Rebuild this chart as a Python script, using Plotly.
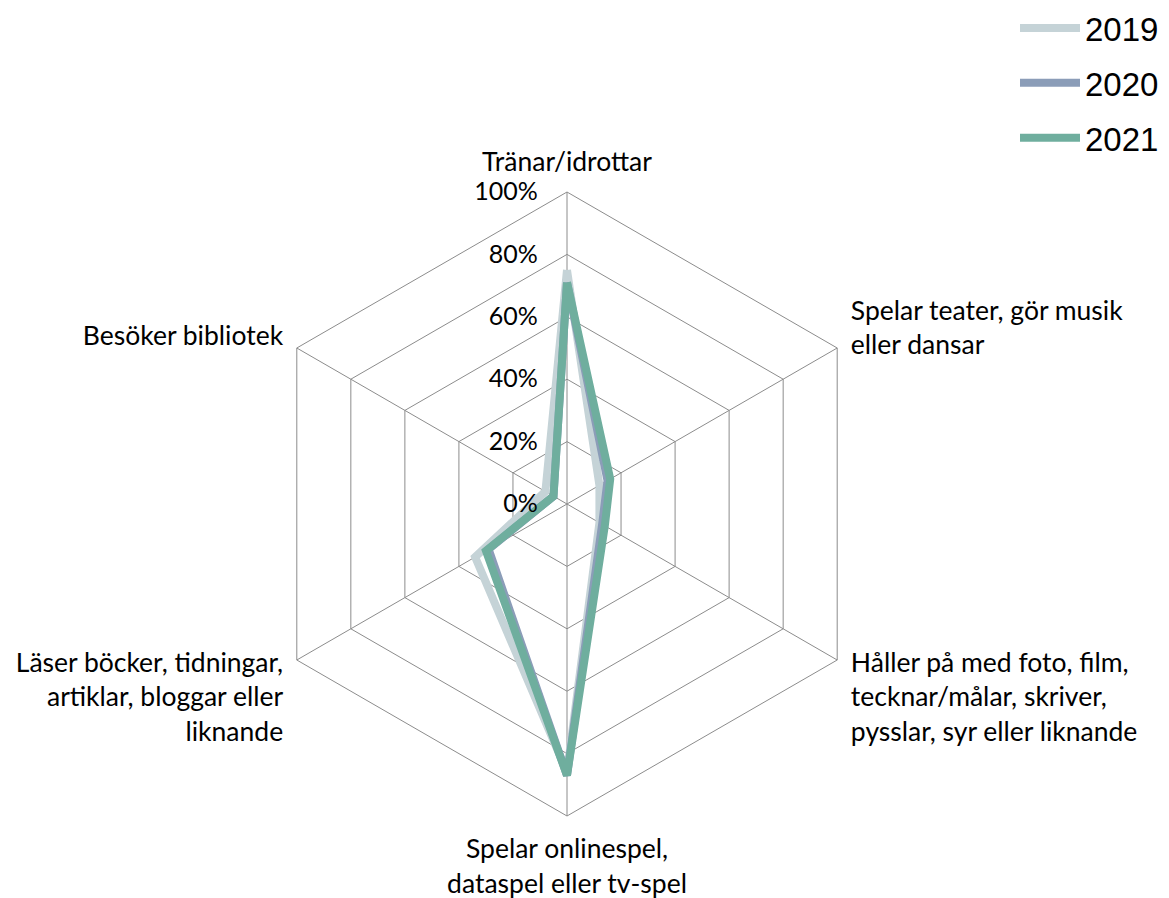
import plotly.graph_objects as go

categories = [
    "Tränar/idrottar",
    "Spelar teater, gör musik<br>eller dansar",
    "Håller på med foto, film,<br>tecknar/målar, skriver,<br>pysslar, syr eller liknande",
    "Spelar onlinespel,<br>dataspel eller tv-spel",
    "Läser böcker, tidningar,<br>artiklar, bloggar eller<br>liknande",
    "Besöker bibliotek",
]
years = ["2019", "2020", "2021"]
values_2019 = [0.75, 0.12, 0.12, 0.86, 0.34, 0.08]
values_2020 = [0.71, 0.15, 0.13, 0.87, 0.29, 0.05]
values_2021 = [0.71, 0.16, 0.14, 0.87, 0.30, 0.05]
colors = ["#C5D3D7", "#8B9DB8", "#6FAE9E"]
radial_ticks = [0, 0.2, 0.4, 0.6, 0.8, 1.0]

fig = go.Figure()
for year, vals, col in zip(years, [values_2019, values_2020, values_2021], colors):
    fig.add_trace(go.Scatterpolar(
        r=vals + vals[:1],
        theta=categories + categories[:1],
        mode="lines",
        name=year,
        legendgroup=year,
        line=dict(color=col, width=8),
    ))

W, H = 1169, 898
cx, cy, R = 567, 504, 312
fig.update_layout(
    width=W, height=H,
    margin=dict(l=0, r=0, t=0, b=0, autoexpand=False),
    paper_bgcolor="white",
    plot_bgcolor="white",
    font=dict(family="Lato, Carlito, sans-serif", size=26, color="black"),
    polar=dict(
        domain=dict(x=[(cx - R) / W, (cx + R) / W], y=[(H - cy - R) / H, (H - cy + R) / H]),
        gridshape="linear",
        bgcolor="white",
        angularaxis=dict(
            direction="clockwise",
            rotation=90,
            showline=True,
            linecolor="#8C8C8C",
            linewidth=1,
            showgrid=True,
            gridcolor="#8C8C8C",
            gridwidth=1,
            ticks="outside",
            ticklen=10,
            tickcolor="rgba(0,0,0,0)",
            tickfont=dict(size=26.5),
        ),
        radialaxis=dict(
            range=[0, 1],
            tickvals=radial_ticks,
            tickformat=".0%",
            angle=90,
            tickangle=90,
            side="counterclockwise",
            showline=False,
            showgrid=True,
            gridcolor="#8C8C8C",
            gridwidth=1,
            ticks="outside",
            ticklen=20,
            tickcolor="rgba(0,0,0,0)",
            tickfont=dict(size=25),
        ),
    ),
    legend=dict(
        x=1015 / W, y=1.0, xanchor="left", yanchor="top",
        font=dict(family="Liberation Sans, Arial, sans-serif", size=33),
        tracegroupgap=9,
        traceorder="grouped",
        itemwidth=60,
        bgcolor="rgba(0,0,0,0)",
    ),
)

fig.write_html("out.html", config={"displayModeBar": False},
               post_script="document.body.style.margin='0';")
